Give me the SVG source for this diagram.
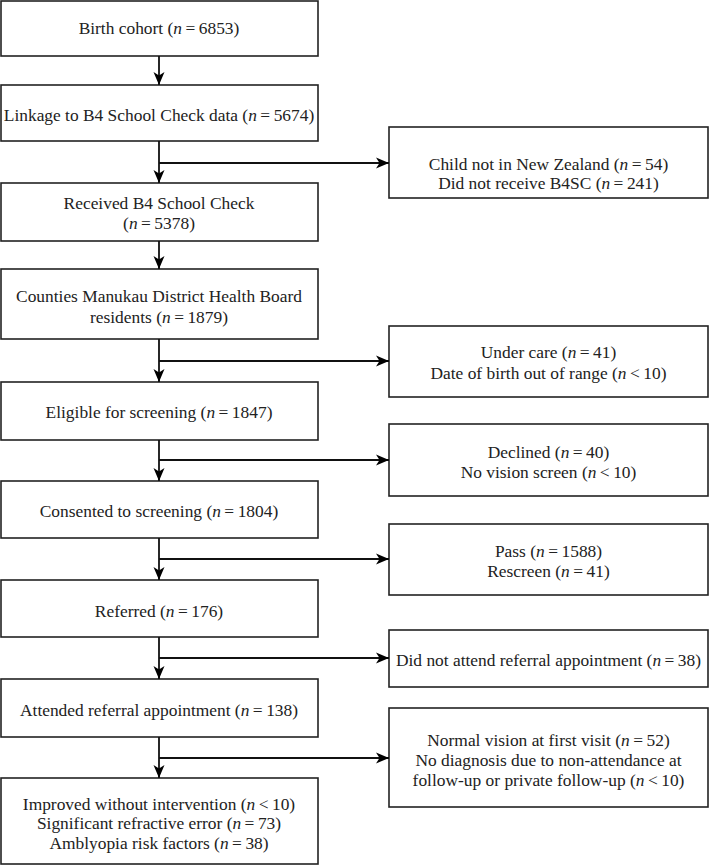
<svg xmlns="http://www.w3.org/2000/svg" width="709" height="865" viewBox="0 0 709 865">
<defs>
<marker id="ah" markerUnits="userSpaceOnUse" markerWidth="14" markerHeight="12" refX="13" refY="6" orient="auto">
<path d="M0,0.5 L13,6 L0,11.5 L3.5,6 z" fill="#000"/>
</marker>
<style>
.box{fill:#fff;stroke:#222;stroke-width:1.6}
.t{font-family:"Liberation Serif","Times New Roman",serif;font-size:17.4px;fill:#222;text-anchor:middle}
.i{font-style:italic}
.c{stroke:#111;stroke-width:1.8;fill:none}
</style>
</defs>
<rect width="709" height="865" fill="#fff"/>
<g id="n1"><rect class="box" x="1" y="1" width="317" height="55"/><text class="t" x="159" y="34">Birth cohort (<tspan class="i">n</tspan>&#8201;=&#8201;6853)</text></g>
<g id="n2"><rect class="box" x="1" y="85" width="317" height="56"/><text class="t" x="159" y="121">Linkage to B4 School Check data (<tspan class="i">n</tspan>&#8201;=&#8201;5674)</text></g>
<g id="n3"><rect class="box" x="1" y="183" width="317" height="58"/><text class="t" x="159" y="209">Received B4 School Check</text><text class="t" x="159" y="229">(<tspan class="i">n</tspan>&#8201;=&#8201;5378)</text></g>
<g id="n4"><rect class="box" x="1" y="269" width="317" height="70"/><text class="t" x="159" y="302">Counties Manukau District Health Board</text><text class="t" x="159" y="323">residents (<tspan class="i">n</tspan>&#8201;=&#8201;1879)</text></g>
<g id="n5"><rect class="box" x="1" y="382" width="317" height="58"/><text class="t" x="159" y="418">Eligible for screening (<tspan class="i">n</tspan>&#8201;=&#8201;1847)</text></g>
<g id="n6"><rect class="box" x="1" y="481" width="317" height="57"/><text class="t" x="159" y="517">Consented to screening (<tspan class="i">n</tspan>&#8201;=&#8201;1804)</text></g>
<g id="n7"><rect class="box" x="1" y="580" width="317" height="57"/><text class="t" x="159" y="617">Referred (<tspan class="i">n</tspan>&#8201;=&#8201;176)</text></g>
<g id="n8"><rect class="box" x="1" y="679" width="317" height="58"/><text class="t" x="159" y="716">Attended referral appointment (<tspan class="i">n</tspan>&#8201;=&#8201;138)</text></g>
<g id="n9"><rect class="box" x="1" y="778" width="317" height="86"/><text class="t" x="159" y="810">Improved without intervention (<tspan class="i">n</tspan>&#8201;&lt;&#8201;10)</text><text class="t" x="159" y="829">Significant refractive error (<tspan class="i">n</tspan>&#8201;=&#8201;73)</text><text class="t" x="159" y="849">Amblyopia risk factors (<tspan class="i">n</tspan>&#8201;=&#8201;38)</text></g>
<g id="r1"><rect class="box" x="389" y="127" width="319" height="71"/><text class="t" x="548.5" y="170">Child not in New Zealand (<tspan class="i">n</tspan>&#8201;=&#8201;54)</text><text class="t" x="548.5" y="189">Did not receive B4SC (<tspan class="i">n</tspan>&#8201;=&#8201;241)</text></g>
<g id="r2"><rect class="box" x="389" y="326" width="319" height="71"/><text class="t" x="548.5" y="358">Under care (<tspan class="i">n</tspan>&#8201;=&#8201;41)</text><text class="t" x="548.5" y="379">Date of birth out of range (<tspan class="i">n</tspan>&#8201;&lt;&#8201;10)</text></g>
<g id="r3"><rect class="box" x="389" y="424" width="319" height="72"/><text class="t" x="548.5" y="458">Declined (<tspan class="i">n</tspan>&#8201;=&#8201;40)</text><text class="t" x="548.5" y="478">No vision screen (<tspan class="i">n</tspan>&#8201;&lt;&#8201;10)</text></g>
<g id="r4"><rect class="box" x="389" y="524" width="319" height="71"/><text class="t" x="548.5" y="557">Pass (<tspan class="i">n</tspan>&#8201;=&#8201;1588)</text><text class="t" x="548.5" y="577">Rescreen (<tspan class="i">n</tspan>&#8201;=&#8201;41)</text></g>
<g id="r5"><rect class="box" x="389" y="630" width="319" height="57"/><text class="t" x="548.5" y="666">Did not attend referral appointment (<tspan class="i">n</tspan>&#8201;=&#8201;38)</text></g>
<g id="r6"><rect class="box" x="389" y="708" width="319" height="99"/><text class="t" x="548.5" y="746">Normal vision at first visit (<tspan class="i">n</tspan>&#8201;=&#8201;52)</text><text class="t" x="548.5" y="766">No diagnosis due to non-attendance at</text><text class="t" x="548.5" y="786">follow-up or private follow-up (<tspan class="i">n</tspan>&#8201;&lt;&#8201;10)</text></g>
<g id="connectors">
<line class="c" x1="159" y1="56" x2="159" y2="85" marker-end="url(#ah)"/>
<line class="c" x1="159" y1="141" x2="159" y2="183" marker-end="url(#ah)"/>
<line class="c" x1="159" y1="241" x2="159" y2="269" marker-end="url(#ah)"/>
<line class="c" x1="159" y1="339" x2="159" y2="382" marker-end="url(#ah)"/>
<line class="c" x1="159" y1="440" x2="159" y2="481" marker-end="url(#ah)"/>
<line class="c" x1="159" y1="538" x2="159" y2="580" marker-end="url(#ah)"/>
<line class="c" x1="159" y1="637" x2="159" y2="679" marker-end="url(#ah)"/>
<line class="c" x1="159" y1="737" x2="159" y2="778" marker-end="url(#ah)"/>
<line class="c" x1="159" y1="163" x2="389" y2="163" marker-end="url(#ah)"/>
<line class="c" x1="159" y1="361" x2="389" y2="361" marker-end="url(#ah)"/>
<line class="c" x1="159" y1="460" x2="389" y2="460" marker-end="url(#ah)"/>
<line class="c" x1="159" y1="559" x2="389" y2="559" marker-end="url(#ah)"/>
<line class="c" x1="159" y1="658" x2="389" y2="658" marker-end="url(#ah)"/>
<line class="c" x1="159" y1="758" x2="389" y2="758" marker-end="url(#ah)"/>
</g>
</svg>
